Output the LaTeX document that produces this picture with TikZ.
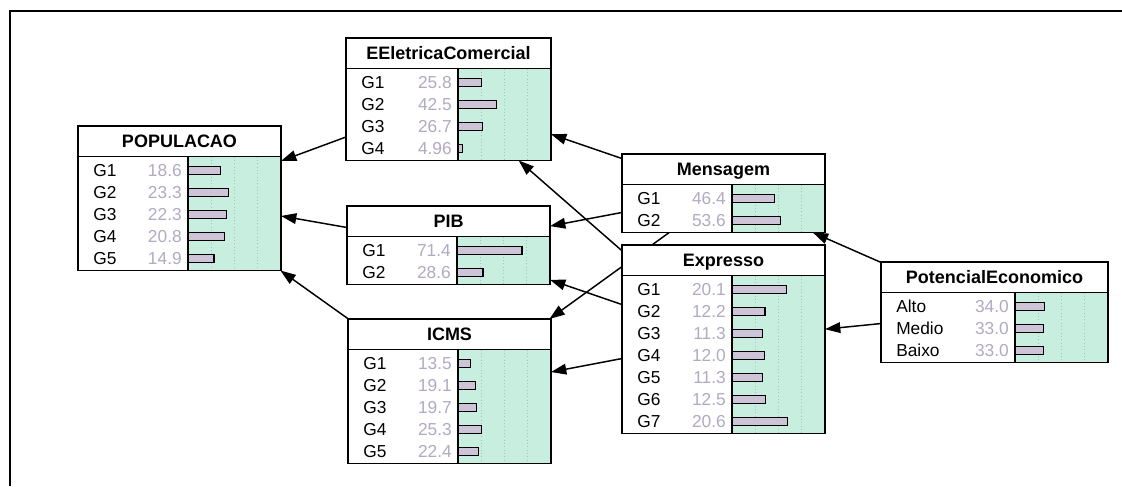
\documentclass[tikz,border=0pt]{standalone}
\usepackage{fontspec}
\setmainfont{Liberation Sans}
\usetikzlibrary{arrows.meta,backgrounds}
\definecolor{beliefgreen}{RGB}{200,238,224}
\definecolor{barlilac}{RGB}{206,196,216}
\definecolor{valgray}{RGB}{178,170,194}
\definecolor{gridgreen}{RGB}{160,196,184}

\tikzset{
  netbox/.style={rectangle, fill=white, inner sep=0pt, outer sep=0pt, anchor=north west},
  boxline/.style={line width=1.4pt},
  gridline/.style={gridgreen, dotted, line width=0.5pt},
  bar/.style={fill=barlilac, draw=black, line width=0.9pt},
  nodetitle/.style={anchor=base, inner sep=0pt, font=\fontsize{13.5}{16}\selectfont\bfseries},
  statename/.style={anchor=base west, inner sep=0pt, font=\fontsize{13}{15}\selectfont},
  stateval/.style={anchor=base east, inner sep=0pt, text=valgray, font=\fontsize{13}{15}\selectfont},
  link/.style={line width=1.1pt, -{Triangle[length=11.5pt,width=8pt]}}
}

% #1 name, #2 left, #3 top, #4 width of the state column, #5 rows,
% #6 bar length per percent, #7 title, #8 states
\newcommand{\netnode}[8]{%
  \pgfmathsetmacro{\nbw}{#4+93}%
  \pgfmathsetmacro{\nbh}{34.5+22*#5}%
  \node[netbox, minimum width=\nbw*0.75pt, minimum height=\nbh*0.75pt] (#1) at (#2,#3) {};
  \fill[beliefgreen] (#2+#4,#3+30.5) rectangle (#2+\nbw,#3+\nbh);
  \foreach \q in {1,2,3}
    \draw[gridline] (#2+#4+23.25*\q,#3+30.5) -- (#2+#4+23.25*\q,#3+\nbh);
  \node[nodetitle] (#1-title) at (#2+\nbw/2,#3+21.75) {#7};
  \foreach \stname/\stval [count=\i] in {#8}{
    \pgfmathsetmacro{\rowy}{#3+22.5+22*\i}
    \node[statename] (#1-s\i) at (#2+15,\rowy+6) {\stname};
    \node[stateval] (#1-v\i) at (#2+#4-6,\rowy+6) {\stval};
    \draw[bar] (#2+#4,\rowy-4) rectangle ++(\stval*#6,8);
  }
  \draw[boxline] (#2,#3+30.5) -- (#2+\nbw,#3+30.5)
    (#2+#4,#3+30.5) -- (#2+#4,#3+\nbh);
  \draw[boxline] (#1.north west) rectangle (#1.south east);
}

\begin{document}
\begin{tikzpicture}[x=0.75pt,y=-0.75pt]
  \useasboundingbox (0,0) rectangle (1122,486);
  % frame
  \draw[line width=1.5pt] (10,486) -- (10,11) -- (1122,11);

  % nodes
  \netnode{pop}{78}{126}{110}{5}{1.74}{POPULACAO}{G1/18.6,G2/23.3,G3/22.3,G4/20.8,G5/14.9}
  \netnode{eel}{346}{38}{112}{4}{0.91}{EEletricaComercial}{G1/25.8,G2/42.5,G3/26.7,G4/4.96}
  \netnode{pib}{347}{206}{110}{2}{0.91}{PIB}{G1/71.4,G2/28.6}
  \netnode{icms}{348}{319}{110}{5}{0.92}{ICMS}{G1/13.5,G2/19.1,G3/19.7,G4/25.3,G5/22.4}
  \netnode{men}{622}{154}{110}{2}{0.91}{Mensagem}{G1/46.4,G2/53.6}
  \netnode{expr}{622}{245}{110}{7}{2.7}{Expresso}{G1/20.1,G2/12.2,G3/11.3,G4/12.0,G5/11.3,G6/12.5,G7/20.6}
  \netnode{pot}{881}{262}{134}{3}{0.87}{PotencialEconomico}{Alto/34.0,Medio/33.0,Baixo/33.0}

  % links
  \begin{pgfonlayer}{background}
    \foreach \from/\to in {eel/pop,pib/pop,icms/pop,men/eel,men/pib,men/icms,
                           expr/eel,expr/pib,expr/icms,pot/men,pot/expr}
      \draw[link] (\from) -- (\to);
  \end{pgfonlayer}
\end{tikzpicture}
\end{document}
